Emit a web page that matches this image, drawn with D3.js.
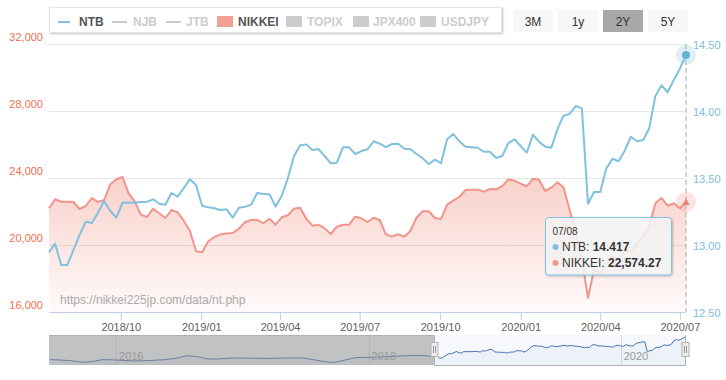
<!DOCTYPE html>
<html><head><meta charset="utf-8">
<script src="https://cdn.jsdelivr.net/npm/d3@7"></script>
<style>
html,body{margin:0;padding:0;background:#fff;}
svg{display:block;font-family:"Liberation Sans",Arial,Helvetica,sans-serif;}
</style></head><body>
<svg id="chart" width="726" height="380"></svg>
<script>
// ---------------- data ----------------
const seriesStart = "2018-07-11";          // weekly observations
const ntbValues = [
 12.946,13.010,12.851,12.851,12.963,13.075,13.174,13.164,13.241,13.328,
 13.254,13.204,13.316,13.316,13.316,13.320,13.323,13.341,13.308,13.301,
 13.388,13.360,13.425,13.490,13.448,13.293,13.281,13.274,13.261,13.266,
 13.204,13.278,13.286,13.301,13.388,
 13.381,13.378,13.286,13.368,13.498,13.664,13.744,13.751,13.709,13.716,
 13.664,13.610,13.614,13.729,13.729,13.679,13.701,13.714,13.774,13.756,
 13.731,13.754,13.756,13.719,13.714,13.679,13.647,13.604,13.637,13.610,
 13.789,13.828,13.774,13.734,13.730,
 13.726,13.696,13.696,13.649,13.664,13.761,13.789,13.739,13.689,13.823,
 13.771,13.734,13.726,13.863,13.965,13.978,14.037,14.020,13.308,13.396,
 13.396,13.572,13.644,13.625,13.704,13.808,13.774,13.784,13.871,14.112,
 14.192,14.140,14.231,14.316,14.417];
const nikkeiValues = [
 22191,22728,22585,22585,22567,22150,22328,22806,22567,22686,
 23624,23922,24060,23087,22608,21810,21672,22168,21893,21612,
 22090,21950,21450,20853,19624,19564,20221,20478,20639,20680,
 20716,20973,21355,21493,21493,
 21295,21570,21212,21654,21773,22168,22227,21570,21152,21212,
 20997,20657,21093,21212,21212,21690,21594,21373,21630,21493,
 20639,20496,20639,20496,20836,21630,22012,22012,21612,21552,
 22406,22645,22866,23284,23304,
 23304,23184,23343,23324,23522,23922,23839,23660,23505,23958,
 23898,23224,23421,23743,23445,22090,20758,19104,16854,18550,
 18300,18900,19300,19150,19700,19600,20100,20500,21100,22490,
 22806,22346,22490,22191,22574.27];
// navigator history (monthly NT ratio before the zoomed window)
const navHistoryStart = "2015-06-24";
const navHistoryValues = [
 12.74,12.71,12.66,12.55,12.60,12.74,12.72,12.68,12.64,12.66,
 12.70,12.74,12.84,13.02,12.95,12.78,12.79,12.84,12.86,12.84,
 12.83,12.83,12.85,12.86,12.86,12.74,12.60,12.53,12.70,12.88,
 12.90,12.92,12.95,12.99,13.02,13.05,13.00];
const navDomainStart = "2015-06-21";
const leftTicks = [16000,20000,24000,28000,32000];
const rightTicks = [12.5,13,13.5,14,14.5];
const navYearTicks = ["2016-01-01","2018-01-01","2020-01-01"];
const legendNames = ["NTB","NJB","JTB","NIKKEI","TOPIX","JPX400","USDJPY"];
const rangeButtons = ["3M","1y","2Y","5Y"];
const selectedButton = "2Y";
const watermark = "https://nikkei225jp.com/data/nt.php";

// ---------------- styles / layout ----------------
const C = {ntb:"#80c1de", nikkei:"#f0958a", nikkeiSym:"#f0a096", leftLab:"#f36f4f",
           rightLab:"#7dbcd9", grid:"#e6e6e6", axis:"#c0d0e0", label:"#606060"};
const P = {l:49, r:686, t:44, b:312};
const NAV = {t:335, b:365};
const legendLayout = [
 {sym:"line",  sx:58,  sw:12, tx:79,  active:true,  color:C.ntb},
 {sym:"line",  sx:112, sw:15, tx:133, active:false, color:"#ccc"},
 {sym:"line",  sx:166, sw:15, tx:186, active:false, color:"#ccc"},
 {sym:"rect",  sx:217, sw:16, tx:238, active:true,  color:C.nikkeiSym},
 {sym:"rect",  sx:286, sw:16, tx:307, active:false, color:"#ccc"},
 {sym:"rect",  sx:353, sw:16, tx:373, active:false, color:"#ccc"},
 {sym:"rect",  sx:420, sw:16, tx:441, active:false, color:"#ccc"}];

const parse = d3.timeParse("%Y-%m-%d");
const t0 = parse(seriesStart);
const dates = ntbValues.map((_, i) => d3.timeDay.offset(t0, 7 * i));
const ntb = ntbValues.map((v, i) => ({date: dates[i], v}));
const nik = nikkeiValues.map((v, i) => ({date: dates[i], v}));
const h0 = parse(navHistoryStart);
const navData = navHistoryValues.map((v, i) => ({date: d3.timeMonth.offset(h0, i), v})).concat(ntb);
const last = dates.length - 1;

const svg = d3.select("#chart");
const defs = svg.append("defs");
const grad = defs.append("linearGradient").attr("id","nikGrad").attr("x1",0).attr("y1",0).attr("x2",0).attr("y2",1);
grad.append("stop").attr("offset","0%").attr("stop-color","#f08a7c").attr("stop-opacity",0.40);
grad.append("stop").attr("offset","100%").attr("stop-color","#f08a7c").attr("stop-opacity",0.04);
const sh = defs.append("filter").attr("id","shadow").attr("x","-10%").attr("y","-10%").attr("width","130%").attr("height","140%");
sh.append("feDropShadow").attr("dx",1).attr("dy",1).attr("stdDeviation",1.2).attr("flood-color","#000").attr("flood-opacity",0.25);

const x = d3.scaleTime().domain([dates[0], dates[last]]).range([P.l, P.r]);
const yL = d3.scaleLinear().domain([16000, 32000]).range([P.b, P.t]);
const yR = d3.scaleLinear().domain([12.5, 14.5]).range([P.b, P.t]);

// gridlines
svg.append("g").selectAll("line").data(leftTicks.slice(1)).join("line")
  .attr("x1", P.l).attr("x2", P.r)
  .attr("y1", d => Math.round(yL(d)) + 0.5).attr("y2", d => Math.round(yL(d)) + 0.5)
  .attr("stroke", C.grid);

// NIKKEI area + line
svg.append("path").datum(nik)
  .attr("d", d3.area().x(d => x(d.date)).y0(P.b).y1(d => yL(d.v)))
  .attr("fill", "url(#nikGrad)");
svg.append("text").attr("x", 60).attr("y", 304).attr("font-size", 12).attr("fill", "#aaa").text(watermark);
svg.append("path").datum(nik)
  .attr("d", d3.line().x(d => x(d.date)).y(d => yL(d.v)))
  .attr("fill", "none").attr("stroke", C.nikkei).attr("stroke-width", 2).attr("stroke-linejoin","round");
// NTB line
svg.append("path").datum(ntb)
  .attr("d", d3.line().x(d => x(d.date)).y(d => yR(d.v)))
  .attr("fill", "none").attr("stroke", C.ntb).attr("stroke-width", 2).attr("stroke-linejoin","round");

// axes
const quarterTicks = d3.timeMonth.every(3).range(d3.timeMonth.ceil(dates[0]), d3.timeDay.offset(dates[last], 1));
const gx = svg.append("g").attr("transform", `translate(0,${P.b})`)
  .call(d3.axisBottom(x).tickValues(quarterTicks).tickFormat(d3.timeFormat("%Y/%m")).tickSize(8).tickPadding(3));
gx.select(".domain").remove();
gx.selectAll("line").attr("stroke", C.axis);
gx.selectAll("text").attr("fill", C.label).attr("font-size", 11).attr("font-family", null);
svg.append("line").attr("x1", P.l).attr("x2", P.r).attr("y1", P.b + 0.5).attr("y2", P.b + 0.5).attr("stroke", C.axis);

const gl = svg.append("g").attr("transform", `translate(${P.l},0)`)
  .call(d3.axisLeft(yL).tickValues(leftTicks).tickFormat(d3.format(",")).tickSize(0).tickPadding(6));
gl.select(".domain").remove();
gl.selectAll("text").attr("fill", C.leftLab).attr("font-size", 11).attr("font-family", null).attr("dy", -4);
const gr = svg.append("g").attr("transform", `translate(${P.r},0)`)
  .call(d3.axisRight(yR).tickValues(rightTicks).tickFormat(d3.format(".2f")).tickSize(0).tickPadding(7));
gr.select(".domain").remove();
gr.selectAll("text").attr("fill", C.rightLab).attr("font-size", 11).attr("font-family", null).attr("dy", 4);

// crosshair
const xl = x(dates[last]);
svg.append("line").attr("x1", xl).attr("x2", xl).attr("y1", P.t).attr("y2", P.b)
  .attr("stroke", "#aaa").attr("stroke-dasharray", "5,3");
// hover markers
const yb = yR(ntbValues[last]), yrd = yL(nikkeiValues[last]);
svg.append("circle").attr("cx", xl).attr("cy", yb).attr("r", 10).attr("fill", C.ntb).attr("opacity", 0.25);
svg.append("circle").attr("cx", xl).attr("cy", yb).attr("r", 4).attr("fill", "#66b3d6");
svg.append("circle").attr("cx", xl).attr("cy", yrd).attr("r", 10).attr("fill", C.nikkei).attr("opacity", 0.25);
svg.append("path").attr("d", `M${xl},${yrd-3.5}L${xl+3.5},${yrd+3}L${xl-3.5},${yrd+3}Z`).attr("fill", "#ee7f72");

// tooltip
const tx = xl - 140.5, ty = 217.5;
const tip = svg.append("g");
tip.append("rect").attr("x", tx).attr("y", ty).attr("width", 126).attr("height", 57.5).attr("rx", 3)
  .attr("fill", "rgba(247,247,247,0.85)").attr("stroke", C.ntb).attr("filter", "url(#shadow)");
tip.append("text").attr("x", tx + 7).attr("y", ty + 17).attr("font-size", 10).attr("fill", "#333")
  .text(d3.timeFormat("%m/%d")(dates[last]));
const rows = [
  {name:"NTB", color:C.ntb, val:d3.format(".3f")(ntbValues[last])},
  {name:"NIKKEI", color:C.nikkei, val:d3.format(",.2f")(nikkeiValues[last])}];
rows.forEach((r, i) => {
  const by = ty + 33.5 + i * 16;
  tip.append("circle").attr("cx", tx + 10).attr("cy", by - 4).attr("r", 3).attr("fill", r.color);
  const t = tip.append("text").attr("x", tx + 16.5).attr("y", by).attr("font-size", 12).attr("fill", "#333");
  t.append("tspan").text(r.name + ": ");
  t.append("tspan").attr("font-weight", "bold").text(r.val);
});

// legend
const lg = svg.append("g");
lg.append("rect").attr("x", 49.5).attr("y", 7.5).attr("width", 452).attr("height", 25)
  .attr("fill", "#fff").attr("stroke", "#e4e4e4").attr("filter", "url(#shadow)");
legendNames.forEach((n, i) => {
  const L = legendLayout[i];
  if (L.sym === "line") {
    lg.append("line").attr("x1", L.sx).attr("x2", L.sx + L.sw).attr("y1", 22).attr("y2", 22)
      .attr("stroke", L.color).attr("stroke-width", 2);
  } else {
    lg.append("rect").attr("x", L.sx).attr("y", 16).attr("width", L.sw).attr("height", 11).attr("fill", L.color);
  }
  lg.append("text").attr("x", L.tx).attr("y", 26).attr("font-size", 12).attr("font-weight", "bold")
    .attr("fill", L.active ? "#555" : "#ccc").text(n);
});

// range buttons
rangeButtons.forEach((b, i) => {
  const bx = 513 + i * 45;
  svg.append("rect").attr("x", bx).attr("y", 10).attr("width", 40).attr("height", 22)
    .attr("fill", b === selectedButton ? "#a8a8a8" : "#f7f7f7");
  svg.append("text").attr("x", bx + 20).attr("y", 25.5).attr("text-anchor", "middle")
    .attr("font-size", 12).attr("fill", "#333").text(b);
});

// navigator
const navX = d3.scaleTime().domain([parse(navDomainStart), dates[last]]).range([P.l, P.r]);
const navY = d3.scaleLinear().domain(d3.extent(navData, d => d.v)).range([362.5, 336.5]);
const ng = svg.append("g");
ng.append("rect").attr("x", P.l).attr("y", NAV.t).attr("width", P.r - P.l).attr("height", NAV.b - NAV.t).attr("fill", "#f6f8fc");
navYearTicks.map(parse).forEach(d => {
  const gxp = Math.round(navX(d)) + 0.5;
  ng.append("line").attr("x1", gxp).attr("x2", gxp).attr("y1", NAV.t).attr("y2", NAV.b).attr("stroke", "#dcdcdc");
});
ng.append("path").datum(navData)
  .attr("d", d3.area().x(d => navX(d.date)).y0(NAV.b).y1(d => navY(d.v)))
  .attr("fill", "rgba(69,114,167,0.05)");
ng.append("path").datum(navData)
  .attr("d", d3.line().x(d => navX(d.date)).y(d => navY(d.v)))
  .attr("fill", "none").attr("stroke", "#4a72b0").attr("stroke-width", 1);
const selL = Math.round(navX(dates[0])) - 0.5, selR = Math.round(navX(dates[last])) - 0.5;
ng.append("rect").attr("x", P.l).attr("y", NAV.t).attr("width", selL - P.l).attr("height", NAV.b - NAV.t)
  .attr("fill", "rgba(140,140,140,0.5)");
navYearTicks.map(parse).forEach(d => {
  ng.append("text").attr("x", navX(d) + 3).attr("y", 360).attr("font-size", 11).attr("fill", "#999")
    .text(d3.timeFormat("%Y")(d));
});
ng.append("path").attr("d", `M${P.l},${NAV.t + 0.5}H${selL}V${NAV.b + 0.5}H${selR}V${NAV.t + 0.5}H${P.r}`)
  .attr("fill", "none").attr("stroke", "#b2b2b2");
[selL, selR].forEach(hx => {
  ng.append("rect").attr("x", hx - 3.5).attr("y", 342.5).attr("width", 7).attr("height", 14)
    .attr("fill", "#ebebeb").attr("stroke", "#b2b2b2");
  [-1, 1].forEach(o => ng.append("line").attr("x1", hx + o).attr("x2", hx + o).attr("y1", 346).attr("y2", 353)
    .attr("stroke", "#999"));
});
</script>
</body></html>
